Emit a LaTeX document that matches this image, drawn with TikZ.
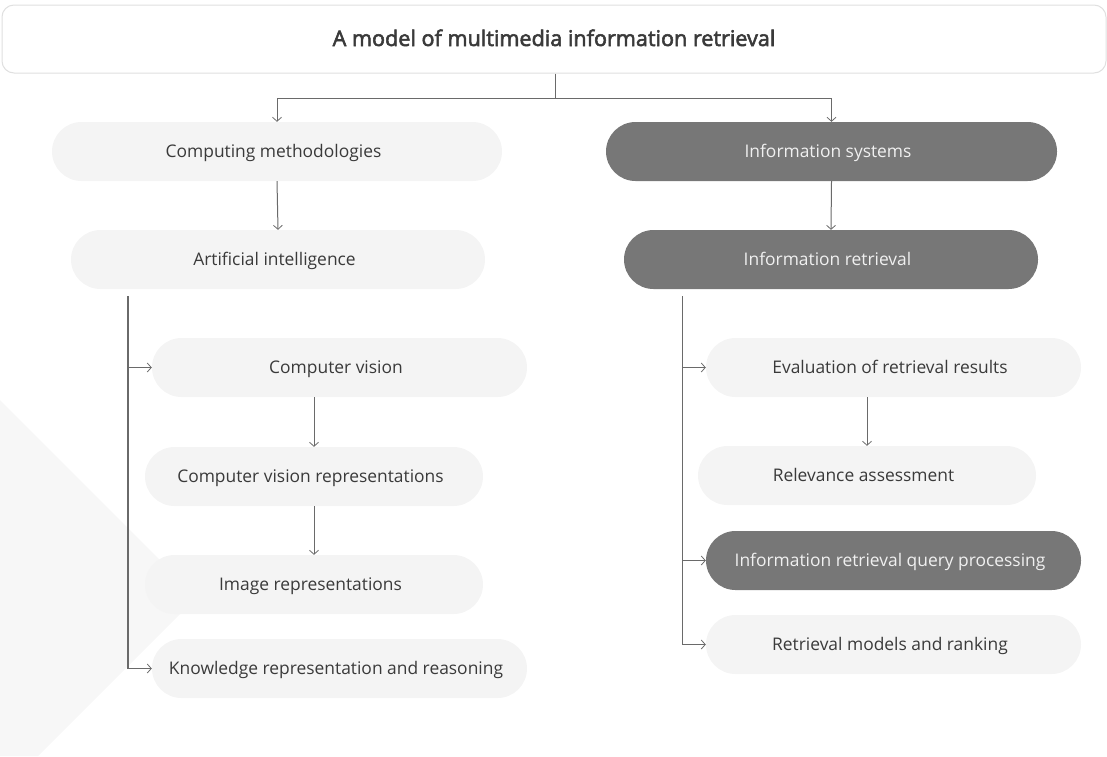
\documentclass[tikz,border=0pt]{standalone}
\usepackage{fontspec}
\setmainfont{Open Sans}
\newfontfamily\titlefont{Open Sans}[FakeBold=2.5]
\usetikzlibrary{arrows.meta}
\definecolor{lightbox}{HTML}{F4F4F4}
\definecolor{darkbox}{HTML}{777777}
\definecolor{bgtri}{HTML}{F7F7F7}
\definecolor{txt}{HTML}{3A3A3A}
\definecolor{wtxt}{HTML}{F0F0F0}
\definecolor{linec}{HTML}{6A6A6A}
\definecolor{titleborder}{HTML}{E0E0E0}
\tikzset{
  pill/.style={rectangle, rounded corners=29.5pt, minimum height=59pt, inner sep=0pt, text height=13pt, text depth=0.5pt, font=\fontsize{17.4}{20}\selectfont, execute at begin node=\kern-7pt},
  lightpill/.style={pill, fill=lightbox, text=txt},
  darkpill/.style={pill, fill=darkbox, text=wtxt},
  conn/.style={draw=linec, line width=1pt, -{Straight Barb[length=4pt,width=9pt,line width=0.8pt]}},
  trunk/.style={draw=linec, line width=1.6pt},
}
\begin{document}
\begin{tikzpicture}[x=1pt,y=-1pt]
\useasboundingbox (0,0) rectangle (1107,756);
\fill[bgtri] (0,400) -- (197,597) -- (38,756) -- (0,756) -- cycle;
\node[rectangle, rounded corners=12pt, draw=titleborder, line width=1pt, fill=white, minimum width=1104pt, minimum height=68pt, inner sep=0pt, text height=15pt, text depth=1pt, text=txt, font=\titlefont\fontsize{21.6}{24}\selectfont] (title) at (554,39) {A model of multimedia information retrieval};
\node[lightpill, minimum width=450pt] (cm) at (277,151.5) {Computing methodologies};
\node[darkpill, minimum width=451pt] (is) at (831.5,151.5) {Information systems};
\node[lightpill, minimum width=414pt] (ai) at (278,259.5) {Artificial intelligence};
\node[darkpill, minimum width=414pt] (ir) at (831,259.5) {Information retrieval};
\node[lightpill, minimum width=375pt] (cv) at (339.5,367.5) {Computer vision};
\node[lightpill, minimum width=338pt] (cvr) at (314,476.5) {Computer vision representations};
\node[lightpill, minimum width=338pt] (imr) at (314,584.5) {Image representations};
\node[lightpill, minimum width=375pt] (krr) at (339.5,668.5) {Knowledge representation and reasoning};
\node[lightpill, minimum width=375pt] (eval) at (893.5,367.5) {Evaluation of retrieval results};
\node[lightpill, minimum width=338pt] (rel) at (867,475.5) {Relevance assessment};
\node[darkpill, minimum width=375pt] (irq) at (893.5,560.5) {Information retrieval query processing};
\node[lightpill, minimum width=375pt] (rmr) at (893.5,644.5) {Retrieval models and ranking};
\coordinate (split) at (555,98);
\coordinate (ltop) at (128,296);
\coordinate (rtop) at (682,296);
% top split
\draw[draw=linec, line width=1pt] (title.south -| split) -- (split);
\draw[conn] (split) -| (cm.north);
\draw[conn] (split) -| (is.north);
\draw[conn] (cm.south) -- (ai.north);
\draw[conn] (is.south) -- (ir.north);
% left column
\draw[trunk] (ltop) -- (ltop |- krr.west);
\draw[conn] (ltop |- cv.west) -- (cv.west);
\draw[conn] (ltop |- krr.west) -- (krr.west);
\draw[conn] (cv.south -| cvr.north) -- (cvr.north);
\draw[conn] (cvr.south) -- (imr.north);
% right column
\draw[trunk, line width=1pt] (rtop) -- (rtop |- rmr.west);
\draw[conn] (rtop |- eval.west) -- (eval.west);
\draw[conn] (rtop |- irq.west) -- (irq.west);
\draw[conn] (rtop |- rmr.west) -- (rmr.west);
\draw[conn] (eval.south -| rel.north) -- (rel.north);
\end{tikzpicture}
\end{document}
